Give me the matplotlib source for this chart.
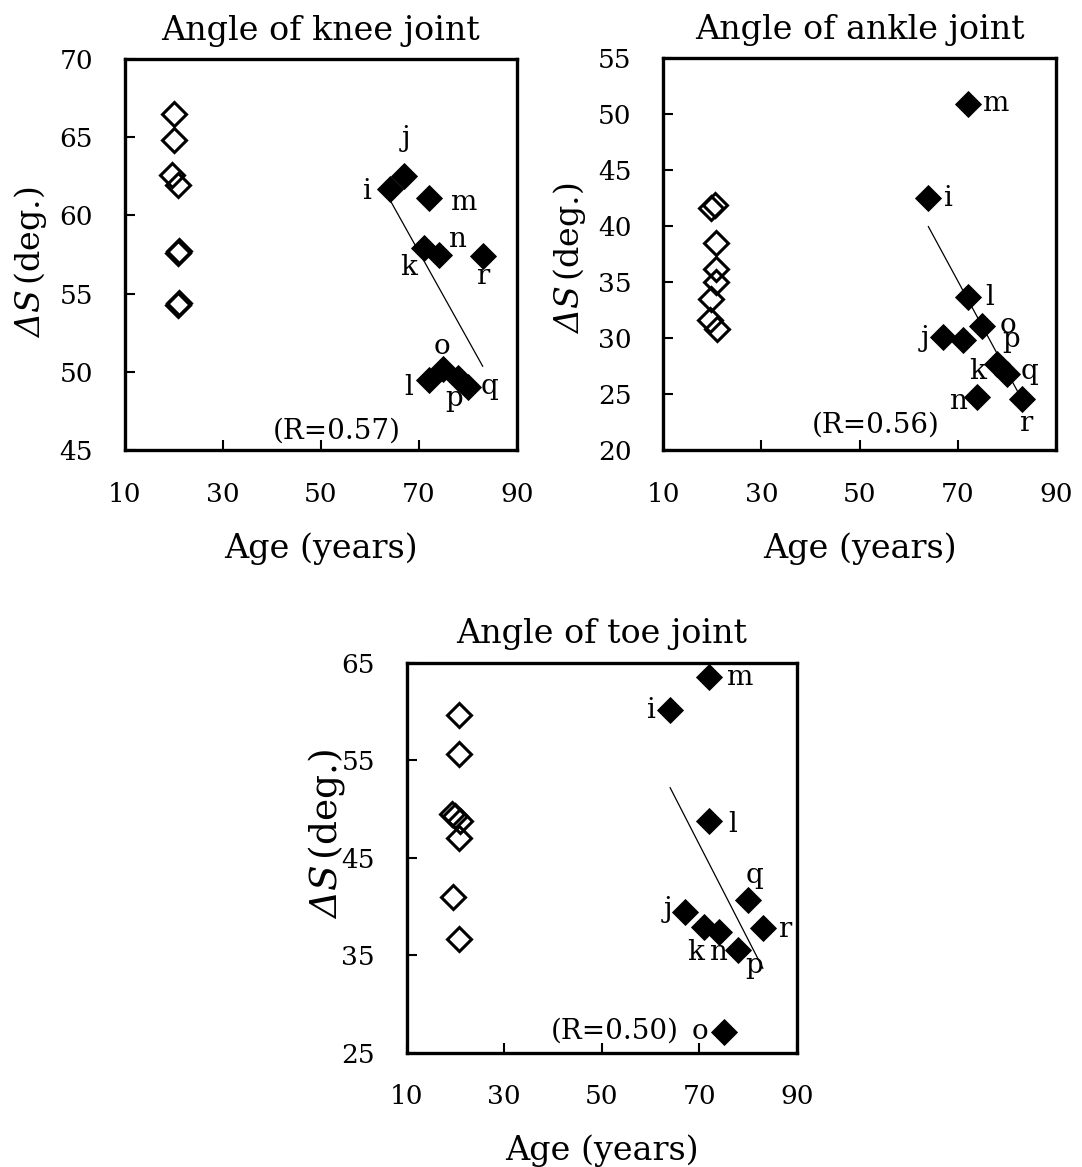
import numpy as np
import matplotlib.pyplot as plt

plt.rcParams['font.family'] = 'DejaVu Serif'
# only the y labels use mathtext; italic for both the Delta and the S
plt.rcParams['mathtext.fontset'] = 'custom'
plt.rcParams['mathtext.rm'] = 'DejaVu Serif:italic'
plt.rcParams['mathtext.it'] = 'DejaVu Serif:italic'

# --- data ---
# elderly subjects (filled diamonds), same ages in every panel
elder_ids = ['i', 'j', 'k', 'l', 'm', 'n', 'o', 'p', 'q', 'r']
elder_age = [64, 67, 71, 72, 72, 74, 75, 78, 80, 83]

# young subjects (open diamonds)
young_age_knee = [20.0, 20.0, 19.6, 20.9, 21.0, 20.8, 21.0, 20.8]
young_knee = [66.5, 64.8, 62.6, 61.95, 57.7, 57.6, 54.4, 54.3]
elder_knee = [61.7, 62.5, 57.9, 49.5, 61.1, 57.5, 50.2, 49.6, 49.0, 57.4]

young_age_ankle = [20.5, 19.8, 20.7, 20.7, 20.7, 19.8, 19.5, 20.9]
young_ankle = [41.9, 41.6, 38.5, 36.2, 35.0, 33.5, 31.6, 30.85]
elder_ankle = [42.5, 30.1, 29.8, 33.7, 50.9, 24.7, 31.1, 27.7, 26.8, 24.55]

young_age_toe = [20.7, 20.7, 19.2, 19.8, 20.9, 20.7, 19.5, 20.7]
young_toe = [59.6, 55.6, 49.5, 49.3, 48.7, 47.0, 40.9, 36.6]
elder_toe = [60.1, 39.4, 37.9, 48.7, 63.5, 37.4, 27.1, 35.5, 40.6, 37.8]

x_ticks = [10, 30, 50, 70, 90]

panels = [
    dict(title='Angle of knee joint', young_x=young_age_knee, young_y=young_knee,
         elder_y=elder_knee, ylim=(45, 70), yticks=np.arange(45, 71, 5),
         r_text='(R=0.57)', r_pos=(40.2, 45.75),
         rect=[0.1155, 0.6144, 0.3623, 0.3350], ylab_xy=(-0.242, 0.48), ylab_size=24,
         offsets={'i': (-22, 10), 'j': (2, -30), 'k': (-15, 27), 'l': (-20, 15),
                  'm': (34, 12), 'n': (18, -8), 'o': (-2, -15), 'p': (-4, 28),
                  'q': (22, 7), 'r': (0, 28)}),
    dict(title='Angle of ankle joint', young_x=young_age_ankle, young_y=young_ankle,
         elder_y=elder_ankle, ylim=(20, 55), yticks=np.arange(20, 56, 5),
         r_text='(R=0.56)', r_pos=(40.2, 21.54),
         rect=[0.6130, 0.6144, 0.3630, 0.3355], ylab_xy=(-0.24, 0.49), ylab_size=24,
         offsets={'i': (20, 8), 'j': (-18, 9), 'k': (15, 39), 'l': (22, 8),
                  'm': (28, 7), 'n': (-20, 12), 'o': (26, 7), 'p': (14, -17),
                  'q': (23, 5), 'r': (4, 32)}),
    dict(title='Angle of toe joint', young_x=young_age_toe, young_y=young_toe,
         elder_y=elder_toe, ylim=(25, 65), yticks=np.arange(25, 66, 10),
         r_text='(R=0.50)', r_pos=(39.5, 26.46),
         rect=[0.3759, 0.0981, 0.3607, 0.3342], ylab_xy=(-0.206, 0.56), ylab_size=27,
         offsets={'i': (-19, 8), 'j': (-17, 5), 'k': (-9, 33), 'l': (23, 11),
                  'm': (30, 8), 'n': (-1, 28), 'o': (-24, 7), 'p': (16, 23),
                  'q': (6, -17), 'r': (22, 9)}),
]

fig = plt.figure(figsize=(10.82, 11.67), dpi=100)

for p in panels:
    ax = fig.add_axes(p['rect'])

    # regression line through the elderly group
    ex = np.array(elder_age, dtype=float)
    ey = np.array(p['elder_y'])
    slope, icept = np.polyfit(ex, ey, 1)
    fx = np.array([ex.min(), ex.max()])
    ax.plot(fx, slope * fx + icept, color='black', lw=0.9, zorder=2)

    ax.plot(p['young_x'], p['young_y'], linestyle='none', marker='D', ms=12,
            mfc='none', mec='black', mew=2.2, zorder=3)
    ax.plot(ex, ey, linestyle='none', marker='D', ms=13,
            mfc='black', mec='black', mew=0.6, zorder=3)

    for sid, xv, yv in zip(elder_ids, ex, ey):
        dx, dy = p['offsets'][sid]
        ax.annotate(sid, (xv, yv), xytext=(dx, -dy), textcoords='offset pixels',
                    ha='center', va='baseline', fontsize=20)

    ax.text(p['r_pos'][0], p['r_pos'][1], p['r_text'], ha='left', va='baseline',
            fontsize=20)

    ax.set_xlim(10, 90)
    ax.set_ylim(*p['ylim'])
    ax.set_xticks(x_ticks)
    ax.set_yticks(p['yticks'])
    ax.tick_params(direction='in', length=7, width=1.5, labelsize=19, pad=23,
                   top=False, right=False)
    for sp in ax.spines.values():
        sp.set_linewidth(2.4)

    ax.set_title(p['title'], fontsize=24, pad=14)
    ax.set_xlabel('Age (years)', fontsize=24, va='baseline')
    ax.xaxis.set_label_coords(0.5, -0.275)
    ax.set_ylabel(r'$\Delta S\,$(deg.)', fontsize=p['ylab_size'], va='center')
    ax.yaxis.set_label_coords(*p['ylab_xy'])

fig.savefig('out.png', dpi=100)
